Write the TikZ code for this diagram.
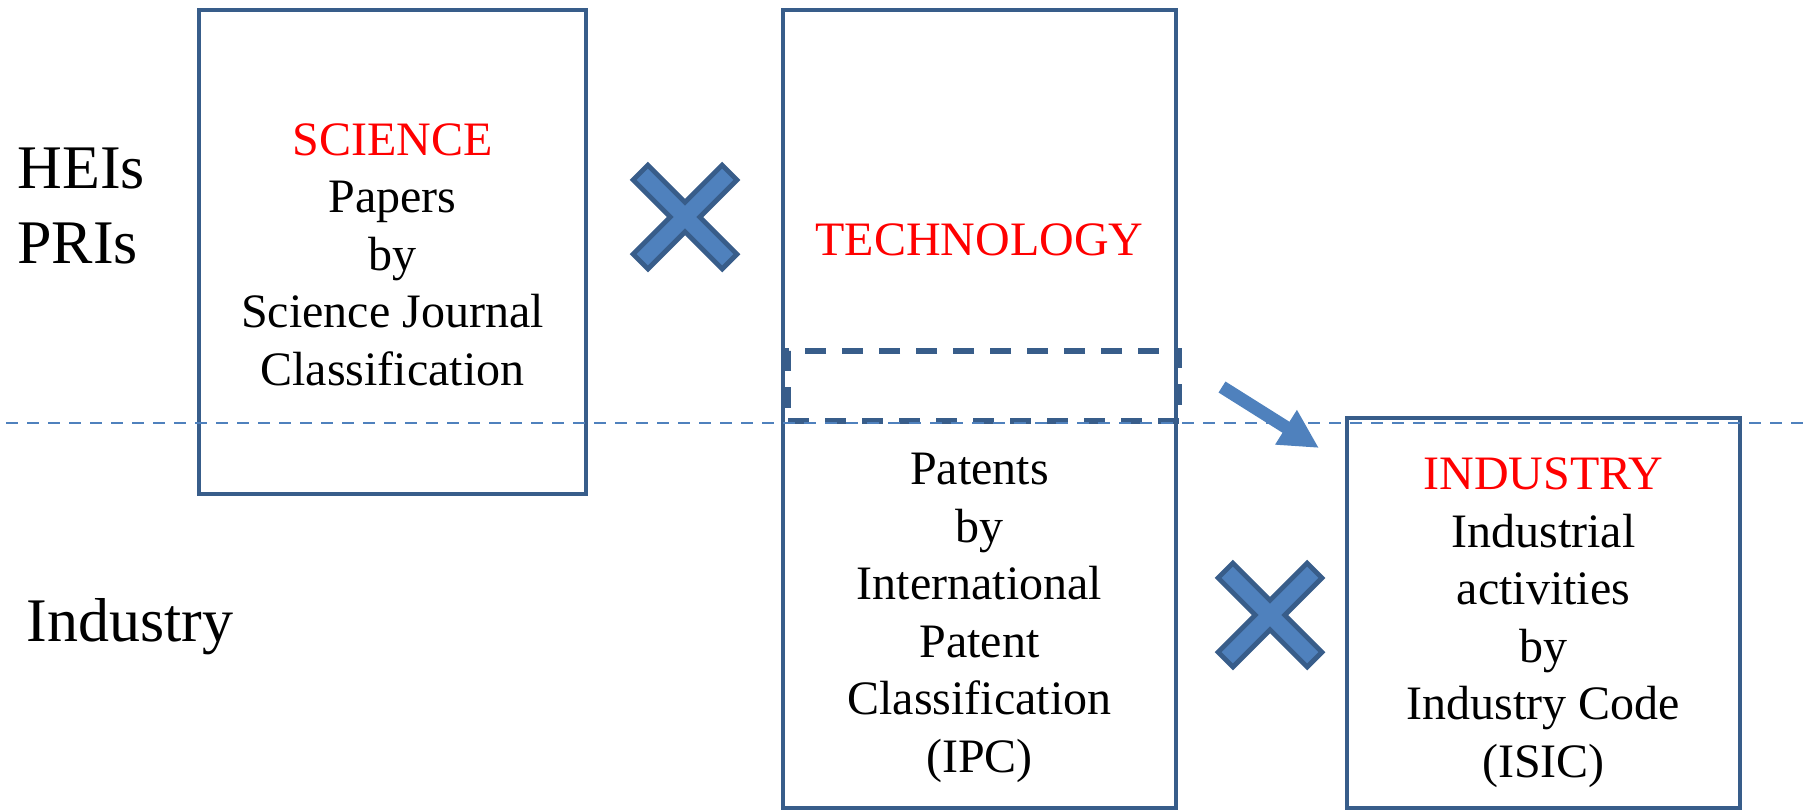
\documentclass[tikz,border=0pt]{standalone}
\usepackage{fontspec}
\setmainfont{Liberation Serif}
\usetikzlibrary{arrows.meta}
\definecolor{boxline}{RGB}{56,93,138}
\definecolor{accent}{RGB}{79,129,189}
\definecolor{titlered}{RGB}{255,0,0}
\begin{document}
\begin{tikzpicture}[x=0.5pt,y=-0.5pt,
  panel/.style={draw=boxline, line width=2.4pt, inner sep=0pt},
  dashpanel/.style={draw=boxline, line width=2.6pt, inner sep=0pt, dash pattern=on 10.5pt off 8pt},
  boxtext/.style={font=\fontsize{24}{28.75}\selectfont, align=center, inner sep=0pt, anchor=base},
  sidelabel/.style={font=\fontsize{31}{37.5}\selectfont, align=left, inner sep=0pt, anchor=base west},
  xmark/.style={draw=boxline, fill=accent, line width=2.4pt, line join=miter},
  divider/.style={draw=accent, line width=1pt, dash pattern=on 6pt off 4.5pt},
  flow/.style={draw=accent, line width=6.5pt, -{Triangle[length=19.5pt,width=19pt]}}
]
\useasboundingbox (0,0) rectangle (1810,811);

% boxes
\node[panel, minimum width=193.5pt, minimum height=242pt] (sci) at (392.5,252) {};
\node[panel, minimum width=196.5pt, minimum height=399pt] (tech) at (979.5,409) {};
\node[panel, minimum width=196.5pt, minimum height=195pt] (ind) at (1543.5,613) {};
\node[dashpanel, minimum width=195.5pt, minimum height=35pt] (overlap) at (983.5,386) {};

% crosses
\begin{scope}[shift={(685,217)}, rotate=45]
  \draw[xmark] (-10.5,-63) -- (10.5,-63) -- (10.5,-10.5) -- (63,-10.5) -- (63,10.5) -- (10.5,10.5) -- (10.5,63) -- (-10.5,63) -- (-10.5,10.5) -- (-63,10.5) -- (-63,-10.5) -- (-10.5,-10.5) -- cycle;
\end{scope}
\begin{scope}[shift={(1270,615)}, rotate=45]
  \draw[xmark] (-10.5,-63) -- (10.5,-63) -- (10.5,-10.5) -- (63,-10.5) -- (63,10.5) -- (10.5,10.5) -- (10.5,63) -- (-10.5,63) -- (-10.5,10.5) -- (-63,10.5) -- (-63,-10.5) -- (-10.5,-10.5) -- cycle;
\end{scope}

% arrow
\coordinate (arrs) at (1222,387);
\coordinate (arre) at (1319,448);
\draw[flow] (arrs) -- (arre);

% divider
\coordinate (divL) at (6,423);
\coordinate (divR) at (1806,423);
\draw[divider] (divL) -- (divR);

% texts (base anchor = baseline of the last line)
\node[boxtext] (scitext) at (392.5,385) {\textcolor{titlered}{SCIENCE}\\Papers\\by\\Science Journal\\Classification};
\node[boxtext, text=titlered] (techtitle) at (979.5,255) {TECHNOLOGY};
\node[boxtext] (techtext) at (979.5,772) {Patents\\by\\International\\Patent\\Classification\\(IPC)};
\node[boxtext] (indtext) at (1543.5,777) {\textcolor{titlered}{INDUSTRY}\\Industrial\\activities\\by\\Industry Code\\(ISIC)};
\node[sidelabel] (heis) at (17,263) {HEIs\\PRIs};
\node[sidelabel] (indlabel) at (26,641) {Industry};
\end{tikzpicture}
\end{document}
